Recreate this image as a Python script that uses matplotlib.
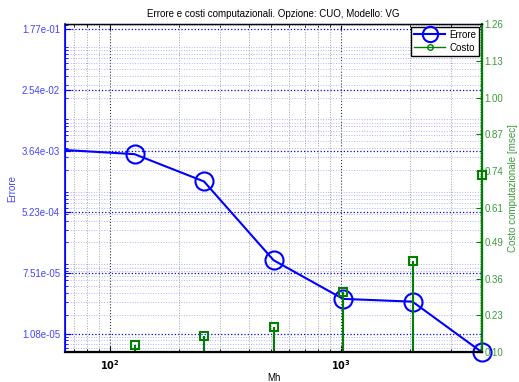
import numpy as np
import matplotlib
matplotlib.use('Agg')
import matplotlib.pyplot as plt
from matplotlib.lines import Line2D
from matplotlib.ticker import LogLocator, NullFormatter, FixedLocator

plt.rcParams['font.family'] = ['Liberation Sans', 'DejaVu Sans']

# Errore (scala log) e costo computazionale [msec] al variare di Mh
mh_err = [32, 128, 256, 512, 1024, 2048, 4096]
errore = [4.3e-3, 3.31e-3, 1.39e-3, 1.14e-4, 3.33e-5, 3.05e-5, 6.1e-6]

mh_costo = [128, 256, 512, 1024, 2048, 4096]
costo = [0.125, 0.158, 0.190, 0.314, 0.424, 0.728]

err_ticks = [1.08e-05, 7.51e-05, 5.23e-04, 3.64e-03, 2.54e-02, 1.77e-01]
costo_ticks = [0.10, 0.23, 0.36, 0.49, 0.61, 0.74, 0.87, 1.00, 1.13, 1.26]

blu = '#0000ff'
verde = '#008000'
blu_txt = '#4444ff'
verde_txt = '#3a9a3a'

fig = plt.figure(figsize=(5.19, 3.82), dpi=100)
W, H = 519, 382
ax = fig.add_axes([65 / W, 1 - 352.3 / H, (482 - 65) / W, (352.3 - 24) / H])
ax.set_xscale('log')
ax.set_yscale('log')
ax.set_xlim(64, 4096)
ax.set_ylim(6.1e-6, 0.207)

# griglia
ax.yaxis.set_major_locator(FixedLocator(err_ticks))
ax.yaxis.set_minor_locator(LogLocator(base=10, subs=np.arange(1, 10)))
ax.yaxis.set_minor_formatter(NullFormatter())
ax.set_yticks(err_ticks, labels=['{:.2e}'.format(v) for v in err_ticks])
ax.xaxis.set_minor_locator(LogLocator(base=10, subs=np.arange(2, 10)))
ax.xaxis.set_minor_formatter(NullFormatter())
ax.set_xticks([100, 1000], labels=[r'$\mathbf{10^{2}}$', r'$\mathbf{10^{3}}$'])

ax.grid(which='major', axis='y', color=blu, linestyle=':', linewidth=0.9)
ax.grid(which='minor', axis='y', color='#b0b0ff', linestyle=':', linewidth=0.7)
ax.grid(which='major', axis='x', color='#333333', linestyle=':', linewidth=0.8)
ax.grid(which='minor', axis='x', color='#a0a0a0', linestyle=':', linewidth=0.7)

ax.tick_params(axis='y', which='both', colors=blu, labelcolor=blu_txt,
               direction='in', labelsize=7)
ax.tick_params(axis='y', which='major', length=4)
ax.tick_params(axis='y', which='minor', length=2)
ax.tick_params(axis='x', which='both', direction='in', top=True, labelsize=7,
               pad=4)
ax.tick_params(axis='x', which='major', length=4)
ax.tick_params(axis='x', which='minor', length=2)

# curva dell'errore: linea tagliata ai bordi, marker solo per i punti visibili
ax.plot(mh_err, errore, '-', color=blu, linewidth=1.5)
vis = [i for i, m in enumerate(mh_err) if m >= ax.get_xlim()[0]]
ax.plot([mh_err[i] for i in vis], [errore[i] for i in vis], 'o', color=blu,
        mfc='none', ms=13, mew=1.5, clip_on=False, zorder=3)

ax.set_xlabel('Mh', fontsize=7, labelpad=1)
ax.set_ylabel('Errore', fontsize=7, color=blu_txt, labelpad=3)
ax.set_title('Errore e costi computazionali. Opzione: CUO, Modello: VG',
             fontsize=7, pad=5)

# asse destro: costo computazionale
ax2 = ax.twinx()
ax2.set_ylim(0.0995, 1.26)
ax2.set_yticks(costo_ticks, labels=['{:.2f}'.format(v) for v in costo_ticks])
ax2.tick_params(axis='y', colors=verde, labelcolor=verde_txt, direction='in',
                length=4, labelsize=7, pad=2)

ml, sl, bl = ax2.stem(mh_costo, costo, linefmt='-', markerfmt='s', basefmt=' ',
                      bottom=0)
plt.setp(sl, color=verde, linewidth=1.5)
plt.setp(ml, color=verde, mfc='none', ms=6, mew=1.5, clip_on=False, zorder=4)
ax2.set_ylabel('Costo computazionale [msec]', fontsize=7, color=verde_txt,
               labelpad=3)

for a in (ax, ax2):
    a.spines['left'].set_color(blu)
    a.spines['right'].set_color(verde)
    a.spines['bottom'].set_color('black')
    a.spines['top'].set_color('black')
ax2.spines['right'].set_linewidth(1.6)
ax2.spines['left'].set_linewidth(1.2)
ax2.spines['bottom'].set_linewidth(1.6)
ax2.spines['top'].set_linewidth(1.0)

handles = [
    Line2D([], [], color=blu, marker='o', mfc='none', ms=11, mew=1.5, lw=1.5),
    Line2D([], [], color=verde, marker='o', mfc='none', ms=4, mew=1.0, lw=1.0),
]
leg = ax2.legend(handles, ['Errore', 'Costo'], loc='upper right', fontsize=7,
                 numpoints=1, handlelength=3.2, handletextpad=0.4,
                 borderpad=0.3, labelspacing=0.3, fancybox=False,
                 borderaxespad=0.3, framealpha=1)
leg.get_frame().set_edgecolor('black')
leg.get_frame().set_linewidth(1.0)

fig.savefig('out.png', dpi=100)
